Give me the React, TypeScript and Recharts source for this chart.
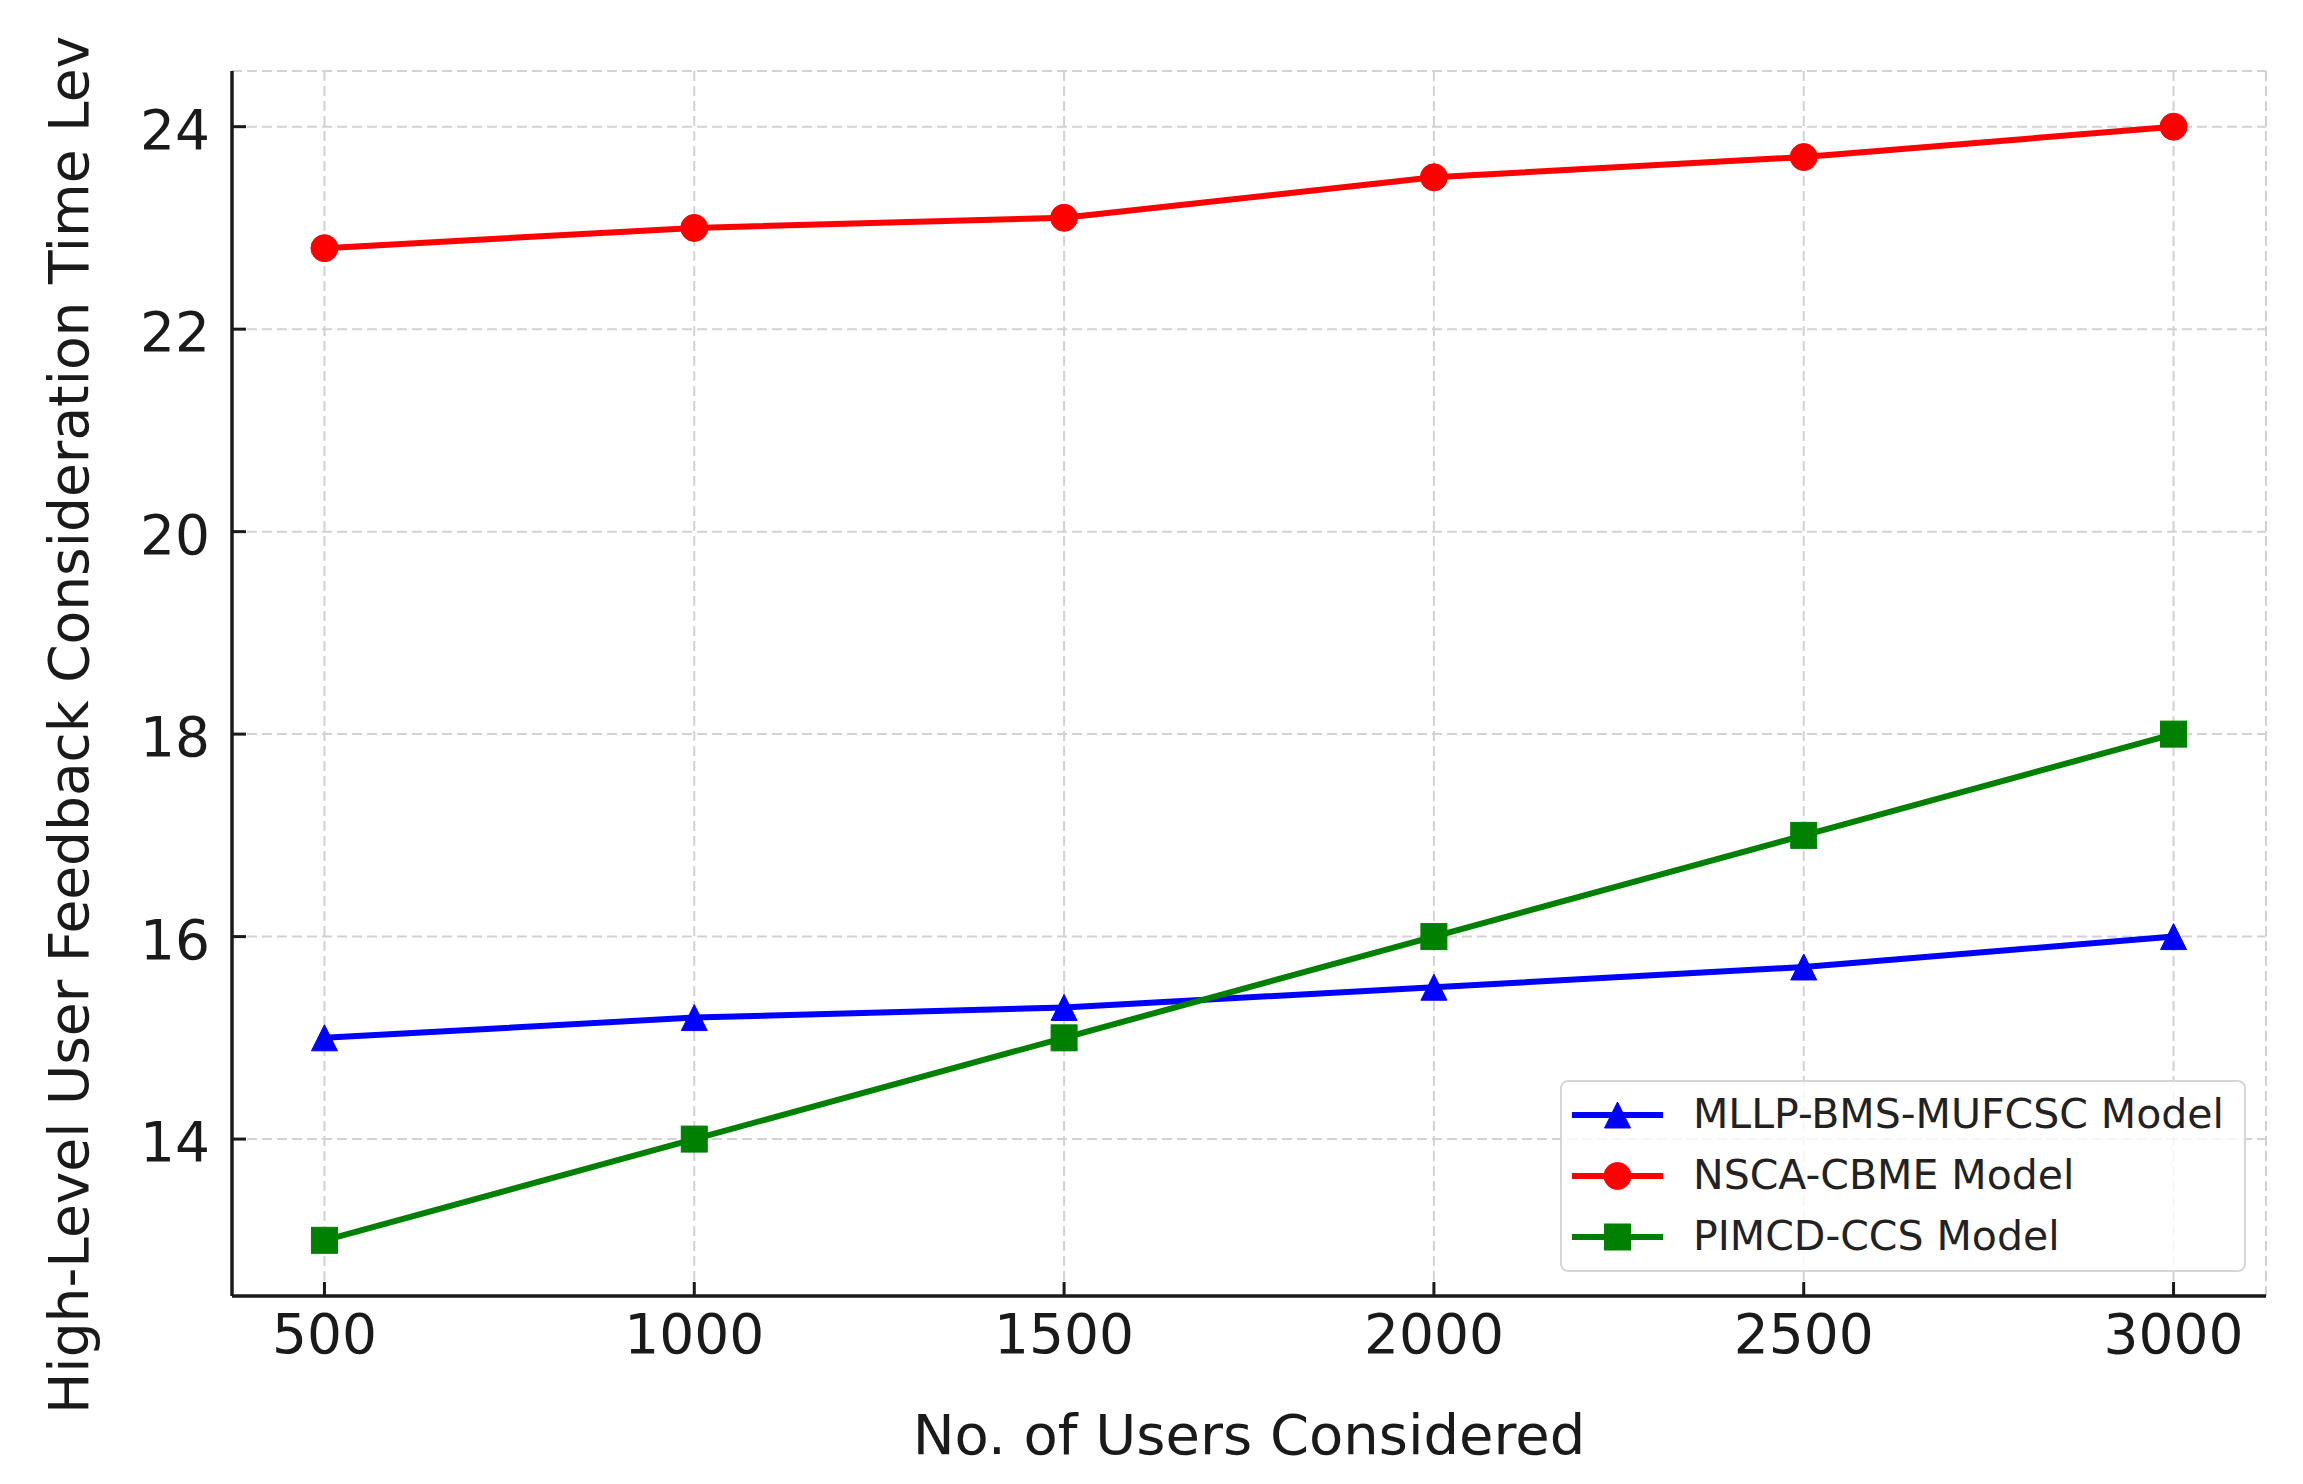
import { LineChart, Line, XAxis, YAxis, CartesianGrid, Legend, Label } from 'recharts';

// x values (number of users)
const users = [500, 1000, 1500, 2000, 2500, 3000];

// series values
const mllp = [15, 15.2, 15.3, 15.5, 15.7, 16];
const nsca = [22.8, 23, 23.1, 23.5, 23.7, 24];
const pimcd = [13, 14, 15, 16, 17, 18];

const yTicks = [14, 16, 18, 20, 22, 24];
const xTicks = [500, 1000, 1500, 2000, 2500, 3000];

const seriesNames = ['MLLP-BMS-MUFCSC Model', 'NSCA-CBME Model', 'PIMCD-CCS Model'];
const seriesColors = ['#0000ff', '#ff0000', '#008000'];
const seriesShapes = ['triangle', 'circle', 'square'];

const data = users.map((u, i) => ({ users: u, mllp: mllp[i], nsca: nsca[i], pimcd: pimcd[i] }));

const FONT = '"DejaVu Sans", Verdana, sans-serif';
const INK = '#1a1a1a';
const MS = 13; // half marker size

function Marker({ shape, cx, cy, color }: { shape: string; cx: number; cy: number; color: string }) {
  if (shape === 'triangle') {
    return (
      <polygon
        points={`${cx},${cy - MS} ${cx - MS},${cy + MS} ${cx + MS},${cy + MS}`}
        fill={color}
        stroke={color}
        strokeWidth={1}
      />
    );
  }
  if (shape === 'square') {
    return <rect x={cx - MS} y={cy - MS} width={MS * 2} height={MS * 2} fill={color} stroke={color} strokeWidth={1} />;
  }
  return <circle cx={cx} cy={cy} r={MS + 0.5} fill={color} stroke={color} strokeWidth={1} />;
}

const makeDot = (shape: string, color: string) => (props: any) => {
  if (props.cx == null || props.cy == null) return <g key={props.key} />;
  return (
    <g key={`${shape}-${props.index}`}>
      <Marker shape={shape} cx={props.cx} cy={props.cy} color={color} />
    </g>
  );
};

const YTick = (props: any) => {
  const { x, y, payload } = props;
  return (
    <g>
      <line x1={x} x2={x + 14} y1={y} y2={y} stroke={INK} strokeWidth={3} />
      <text x={x - 22} y={y} dy="0.4em" textAnchor="end" fontSize={55} fill={INK} fontFamily={FONT}>
        {payload.value}
      </text>
    </g>
  );
};

const XTick = (props: any) => {
  const { x, y, payload } = props;
  return (
    <g>
      <line x1={x} x2={x} y1={y} y2={y - 14} stroke={INK} strokeWidth={3} />
      <text x={x} y={y + 57} textAnchor="middle" fontSize={55} fill={INK} fontFamily={FONT}>
        {payload.value}
      </text>
    </g>
  );
};

const LegendBox = () => (
  <div
    style={{
      width: 686,
      height: 192,
      boxSizing: 'border-box',
      border: '2px solid #d6d6d6',
      borderRadius: 8,
      background: 'rgba(255,255,255,0.8)',
      paddingTop: 2,
      fontFamily: FONT,
    }}
  >
    {seriesNames.map((name, i) => (
      <div key={name} style={{ display: 'flex', alignItems: 'center', height: 61 }}>
        <svg width={91} height={40} style={{ marginLeft: 10, marginRight: 30 }}>
          <line x1={0} x2={91} y1={20} y2={20} stroke={seriesColors[i]} strokeWidth={6} />
          <Marker shape={seriesShapes[i]} cx={45.5} cy={20} color={seriesColors[i]} />
        </svg>
        <span style={{ fontSize: 41, color: '#222', lineHeight: 1 }}>{name}</span>
      </div>
    ))}
  </div>
);

export default function App() {
  return (
    <div style={{ position: 'absolute', left: 0, top: 0, background: '#fff' }}>
      <LineChart width={2303} height={1484} data={data} margin={{ top: 71, right: 37, bottom: 0, left: 0 }}>
        <CartesianGrid stroke="#d2d2d2" strokeDasharray="10 5" strokeWidth={2} />
        <XAxis
          dataKey="users"
          type="number"
          domain={[375, 3125]}
          ticks={xTicks}
          height={188}
          tickSize={0}
          tickMargin={0}
          tick={<XTick />}
          axisLine={{ stroke: INK, strokeWidth: 3.5 }}
          interval={0}
        >
          <Label
            content={(p: any) => (
              <text
                x={p.viewBox.x + p.viewBox.width / 2}
                y={p.viewBox.y + 158}
                textAnchor="middle"
                fontSize={56}
                fill={INK}
                fontFamily={FONT}
              >
                No. of Users Considered
              </text>
            )}
          />
        </XAxis>
        <YAxis
          type="number"
          domain={[12.45, 24.55]}
          ticks={yTicks}
          width={232}
          tickSize={0}
          tickMargin={0}
          tick={<YTick />}
          axisLine={{ stroke: INK, strokeWidth: 3.5 }}
          interval={0}
        >
          <Label
            content={() => (
              <text
                x={88}
                y={1414}
                transform="rotate(-90, 88, 1414)"
                textAnchor="start"
                fontSize={55}
                fill={INK}
                fontFamily={FONT}
              >
                High-Level User Feedback Consideration Time Lev
              </text>
            )}
          />
        </YAxis>
        <Legend
          layout="horizontal"
          verticalAlign="middle"
          align="center"
          wrapperStyle={{ left: 1560, top: 1080, width: 686, height: 192 }}
          content={() => <LegendBox />}
        />
        <Line
          type="linear"
          dataKey="mllp"
          name={seriesNames[0]}
          stroke={seriesColors[0]}
          strokeWidth={6}
          dot={makeDot(seriesShapes[0], seriesColors[0])}
          activeDot={false}
          isAnimationActive={false}
        />
        <Line
          type="linear"
          dataKey="nsca"
          name={seriesNames[1]}
          stroke={seriesColors[1]}
          strokeWidth={6}
          dot={makeDot(seriesShapes[1], seriesColors[1])}
          activeDot={false}
          isAnimationActive={false}
        />
        <Line
          type="linear"
          dataKey="pimcd"
          name={seriesNames[2]}
          stroke={seriesColors[2]}
          strokeWidth={6}
          dot={makeDot(seriesShapes[2], seriesColors[2])}
          activeDot={false}
          isAnimationActive={false}
        />
      </LineChart>
    </div>
  );
}
